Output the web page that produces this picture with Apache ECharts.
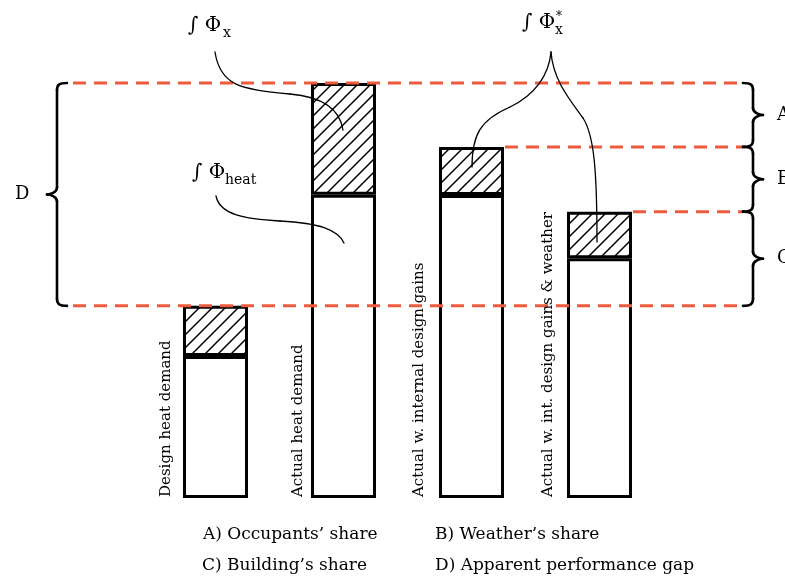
<!DOCTYPE html>
<html>
<head>
<meta charset="utf-8">
<script src="https://cdn.jsdelivr.net/npm/echarts@6/dist/echarts.min.js"></script>
<style>
  html, body { margin: 0; padding: 0; background: #fff; }
  #chart { width: 785px; height: 579px; }
</style>
</head>
<body>
<div id="chart"></div>
<script>
// Heat demand scenarios (relative units, actual heat demand = 100)
const categories = [
  'Design heat demand',
  'Actual heat demand',
  'Actual w. internal design gains',
  'Actual w. int. design gains & weather'
];
// lower (plain) part of each bar
const baseValues = [34.2, 73.1, 73.0, 57.8];
// upper (hatched) part of each bar
const shareValues = [12.1, 26.9, 11.6, 11.2];
// legend of the bracketed differences
const shareLabels = [
  'A) Occupants’ share', 'B) Weather’s share',
  'C) Building’s share', 'D) Apparent performance gap'
];
const braceLetters = ['A', 'B', 'C', 'D'];

const FONT = "'DejaVu Serif', 'Liberation Serif', serif";
const RED = '#ee5b3c';

// diagonal hatch tile
function makeHatch(size) {
  const c = document.createElement('canvas');
  c.width = c.height = size;
  const g = c.getContext('2d');
  g.fillStyle = '#fff';
  g.fillRect(0, 0, size, size);
  g.strokeStyle = '#000';
  g.lineWidth = 1.5;
  g.beginPath();
  g.moveTo(-2, size + 2); g.lineTo(size + 2, -2);
  g.moveTo(-2, 2); g.lineTo(2, -2);
  g.moveTo(size - 2, size + 2); g.lineTo(size + 2, size - 2);
  g.stroke();
  return c;
}

const chart = echarts.init(document.getElementById('chart'), null, { renderer: 'canvas' });
const BAR_W = 65;

chart.setOption({
  animation: false,
  backgroundColor: '#fff',
  grid: { left: 151.5, width: 512, top: 83, height: 415 },
  xAxis: { type: 'category', data: categories, show: false },
  yAxis: { type: 'value', min: 0, max: 100, show: false },
  series: [
    {
      type: 'bar', stack: 'demand', data: baseValues, barWidth: BAR_W, silent: true,
      itemStyle: { color: '#fff', borderColor: '#000', borderWidth: 3 }
    },
    {
      type: 'bar', stack: 'demand', data: shareValues, barWidth: BAR_W, silent: true,
      itemStyle: { color: { image: makeHatch(13), repeat: 'repeat' }, borderColor: '#000', borderWidth: 3 }
    }
  ]
});

// positions from the chart's own scales
const totals = baseValues.map((v, i) => v + shareValues[i]);
const px = (i, v) => chart.convertToPixel({ gridIndex: 0 }, [i, v]);
const yTop = totals.map((v, i) => px(i, v)[1]);
const xC = totals.map((v, i) => px(i, v)[0]);
const yBottom = px(0, 0)[1];

const LINE_L = 73, LINE_R = 743;
const graphics = [];

function dashed(x1, x2, y) {
  graphics.push({
    type: 'line', z: 50, silent: true,
    shape: { x1, y1: y, x2, y2: y },
    style: { stroke: RED, lineWidth: 3, lineDash: [13, 8] }
  });
}
dashed(LINE_L, LINE_R, yTop[1]);
dashed(xC[2] + BAR_W / 2 + 1, LINE_R, yTop[2]);
dashed(xC[3] + BAR_W / 2 + 1, LINE_R, yTop[3]);
dashed(LINE_L, LINE_R, yTop[0]);

// stroke helpers
function cubic(p0, c1, c2, p1, w) {
  graphics.push({
    type: 'bezierCurve', z: 55, silent: true,
    shape: { x1: p0[0], y1: p0[1], cpx1: c1[0], cpy1: c1[1], cpx2: c2[0], cpy2: c2[1], x2: p1[0], y2: p1[1] },
    style: { fill: null, stroke: '#000', lineWidth: w, lineCap: 'round' }
  });
}
function seg(p0, p1, w) {
  graphics.push({
    type: 'line', z: 55, silent: true,
    shape: { x1: p0[0], y1: p0[1], x2: p1[0], y2: p1[1] },
    style: { stroke: '#000', lineWidth: w, lineCap: 'round' }
  });
}

// curly brace between y0 and y1; dir = +1 tip right, -1 tip left
function brace(xEnd, y0, y1, dir) {
  const w = 2.6;
  const xs = xEnd + dir * 10;      // spine
  const xt = xEnd + dir * 20;      // tip
  const ym = (y0 + y1) / 2;
  const r = 7;
  cubic([xEnd, y0], [xs - dir * 2, y0], [xs, y0 + 2], [xs, y0 + r], w);
  seg([xs, y0 + r], [xs, ym - r], w);
  cubic([xs, ym - r], [xs, ym - 2], [xt - dir * 3, ym], [xt, ym], w);
  cubic([xt, ym], [xt - dir * 3, ym], [xs, ym + 2], [xs, ym + r], w);
  seg([xs, ym + r], [xs, y1 - r], w);
  cubic([xs, y1 - r], [xs, y1 - 2], [xs - dir * 2, y1], [xEnd, y1], w);
  return { x: xt, y: ym };
}

function text(str, x, y, size, opts) {
  graphics.push(Object.assign({
    type: 'text', z: 60, silent: true, x, y,
    style: {
      text: str, fontFamily: FONT, fontSize: size, fill: '#000',
      align: 'left', verticalAlign: 'middle'
    }
  }, opts || {}));
}

const tipA = brace(743, yTop[1], yTop[2], 1);
const tipB = brace(743, yTop[2], yTop[3], 1);
const tipC = brace(743, yTop[3], yTop[0], 1);
const tipD = brace(67, yTop[1], yTop[0], -1);
text(braceLetters[0], tipA.x + 14, tipA.y, 18);
text(braceLetters[1], tipB.x + 14, tipB.y, 18);
text(braceLetters[2], tipC.x + 14, tipC.y, 18);
text(braceLetters[3], 15, tipD.y, 18);

// bar captions, rotated, reading upwards
const captionDx = [-17, -13, -20, -19];
categories.forEach((c, i) => {
  graphics.push({
    type: 'text', z: 60, silent: true,
    x: xC[i] - BAR_W / 2 + captionDx[i], y: yBottom - 1, rotation: Math.PI / 2,
    style: { text: c, fontFamily: FONT, fontSize: 15, fill: '#000', align: 'left', verticalAlign: 'middle' }
  });
});

// annotation curves
const thin = 1.3;
cubic([215, 52], [220, 85], [240, 90], [290, 94], thin);
cubic([290, 94], [325, 97], [340, 110], [343, 130], thin);
cubic([216, 196], [220, 215], [245, 219], [280, 221], thin);
cubic([280, 221], [320, 223], [338, 230], [344, 243], thin);
cubic([551, 52], [549, 75], [535, 95], [510, 107], thin);
cubic([510, 107], [480, 120], [472, 135], [472, 167], thin);
cubic([551, 52], [553, 80], [570, 100], [583, 118], thin);
cubic([583, 118], [594, 135], [597, 170], [597, 242], thin);

// flux integrals
text('∫ Φ', 188, 26, 20);
text('x', 223, 33, 14);
text('∫ Φ', 192, 173, 20);
text('heat', 225, 180, 14);
text('∫ Φ', 522, 23, 20);
text('x', 555, 30, 14);
text('*', 556, 17, 12);

// legend of differences
text(shareLabels[0], 203, 535, 17);
text(shareLabels[1], 435, 535, 17);
text(shareLabels[2], 202, 566, 17);
text(shareLabels[3], 435, 566, 17);

chart.setOption({ graphic: { elements: graphics } });
</script>
</body>
</html>
